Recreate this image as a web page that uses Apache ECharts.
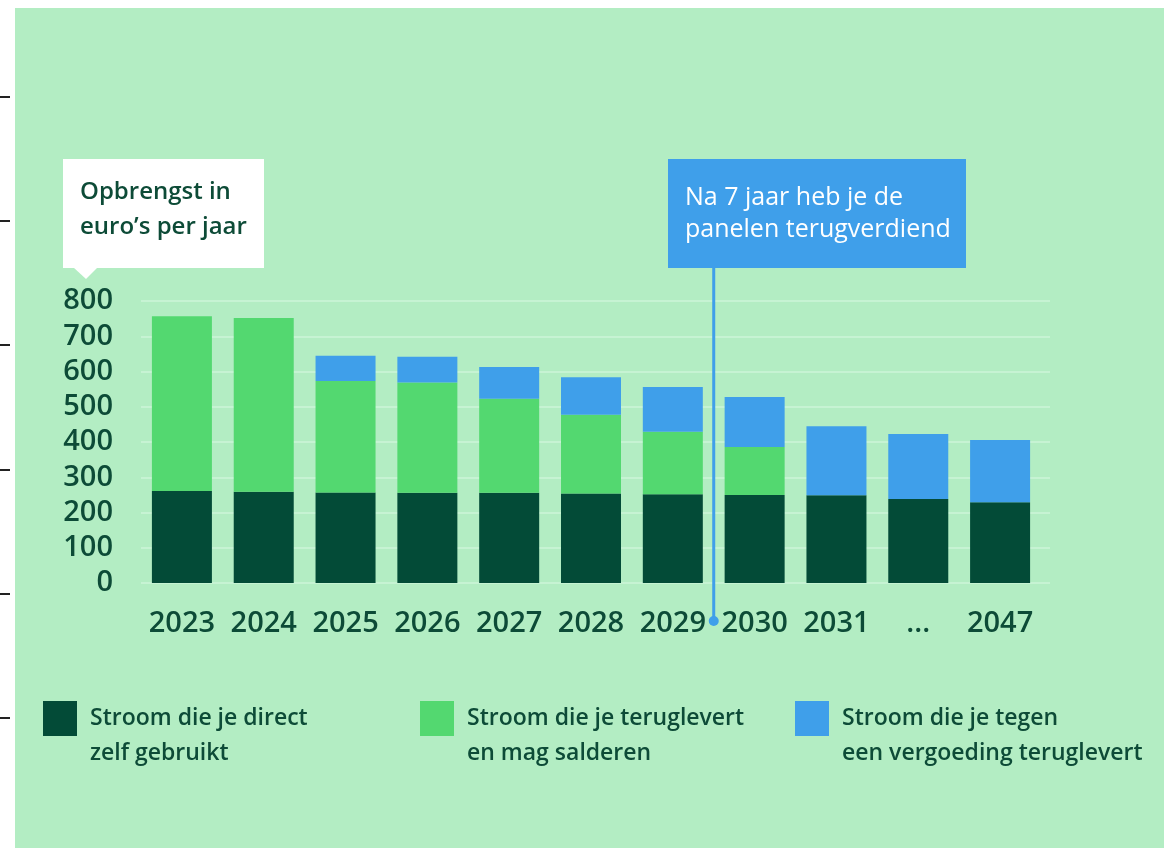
<!DOCTYPE html>
<html><head><meta charset="utf-8">
<script src="https://cdn.jsdelivr.net/npm/echarts@6/dist/echarts.min.js"></script>
<style>
html,body{margin:0;padding:0;background:#fff;}
#bg{position:absolute;left:15px;top:8px;width:1149px;height:840px;background:#b3edc3;}
#chart{position:absolute;left:0;top:0;width:1164px;height:848px;}
</style></head><body>
<div id="bg"></div><div id="chart"></div>
<script>
const categories = ['2023','2024','2025','2026','2027','2028','2029','2030','2031','...','2047'];
const directUse   = [261, 259, 257, 256, 256, 254, 252, 250, 249, 238, 229];
const netMetering = [496, 493, 316, 313, 267, 223, 177, 136, 0, 0, 0];
const feedIn      = [0, 0, 72, 73, 90, 107, 127, 142, 196, 185, 177];
const seriesNames = ['Stroom die je direct zelf gebruikt', 'Stroom die je teruglevert en mag salderen', 'Stroom die je tegen een vergoeding teruglevert'];
const legendLabels = ['Stroom die je direct\nzelf gebruikt', 'Stroom die je teruglevert\nen mag salderen', 'Stroom die je tegen\neen vergoeding teruglevert'];
const axisTitle = 'Opbrengst in\neuro’s per jaar';
const calloutText = 'Na 7 jaar heb je de\npanelen terugverdiend';
const yMin = 0, yMax = 800, yStep = 100;

const colors = ['#034b37', '#53d870', '#3f9fea'];
const textColor = '#0d4b37';
const font = '"Open Sans", sans-serif';

const chart = echarts.init(document.getElementById('chart'), null, {renderer: 'canvas'});
const seriesData = [directUse, netMetering, feedIn];
const legendLeft = [43, 420, 795];

const option = {
  animation: false,
  backgroundColor: 'transparent',
  textStyle: {fontFamily: font},
  grid: [
    {left: 141, top: 301, width: 900, bottom: 265},
    {left: 141, top: 301, right: 114, bottom: 265}
  ],
  xAxis: [
    {type: 'category', gridIndex: 0, data: categories,
     axisLine: {show: false}, axisTick: {show: false},
     axisLabel: {color: textColor, fontSize: 29, fontWeight: 600, fontFamily: font, margin: 26, interval: 0}},
    {type: 'value', gridIndex: 1, show: false, min: 0, max: 1}
  ],
  yAxis: [
    {type: 'value', gridIndex: 0, min: yMin, max: yMax, interval: yStep,
     axisLine: {show: false}, axisTick: {show: false}, splitLine: {show: false},
     axisLabel: {color: textColor, fontSize: 29, fontWeight: 600, fontFamily: font, margin: 28}},
    {type: 'value', gridIndex: 1, min: yMin, max: yMax, interval: yStep,
     axisLine: {show: false}, axisTick: {show: false}, axisLabel: {show: false},
     splitLine: {show: true, lineStyle: {color: '#cdf4d8', width: 1.5}}}
  ],
  legend: seriesNames.map((n, i) => ({
    data: [n], left: legendLeft[i], top: 666, padding: 0,
    icon: 'rect', itemWidth: 34, itemHeight: 35, selectedMode: false,
    formatter: () => ' \n' + legendLabels[i],
    textStyle: {color: textColor, fontSize: 23, fontWeight: 600, fontFamily: font, lineHeight: 35, padding: [0, 0, 0, 8]}
  })),
  series: seriesNames.map((n, i) => ({
    name: n, type: 'bar', stack: 'total', xAxisIndex: 0, yAxisIndex: 0,
    data: seriesData[i], barWidth: 60, itemStyle: {color: colors[i]}
  })),
  graphic: [
    ...[97, 221, 345, 470, 594, 718].map(y => ({type: 'line', silent: true, shape: {x1: 0, y1: y, x2: 10, y2: y}, style: {stroke: '#222', lineWidth: 2}})),
    {type: 'rect', silent: true, shape: {x: 63, y: 159, width: 201, height: 109}, style: {fill: '#ffffff'}, z: 5},
    {type: 'polygon', silent: true, shape: {points: [[73, 267], [98, 267], [86, 279]]}, style: {fill: '#ffffff'}, z: 5},
    {type: 'text', silent: true, x: 80, y: 175, z: 6,
     style: {text: axisTitle, fill: textColor, font: '600 24px "Open Sans", sans-serif', lineHeight: 35, verticalAlign: 'top'}},
    {type: 'rect', silent: true, shape: {x: 668, y: 159, width: 298, height: 109}, style: {fill: '#3f9fea'}, z: 5},
    {type: 'text', silent: true, x: 685, y: 182, z: 6,
     style: {text: calloutText, fill: '#ffffff', font: '500 25px "Open Sans", sans-serif', lineHeight: 32, verticalAlign: 'top'}}
  ]
};
chart.setOption(option);

const xa = chart.convertToPixel({xAxisIndex: 0}, categories[6]);
const xb = chart.convertToPixel({xAxisIndex: 0}, categories[7]);
const xm = (xa + xb) / 2;
chart.setOption({graphic: option.graphic.concat([
  {type: 'line', silent: true, z: 6, shape: {x1: xm, y1: 268, x2: xm, y2: 621}, style: {stroke: '#3f9fea', lineWidth: 3}},
  {type: 'circle', silent: true, z: 6, shape: {cx: xm, cy: 621, r: 5}, style: {fill: '#3f9fea'}}
])});
</script>
</body></html>
